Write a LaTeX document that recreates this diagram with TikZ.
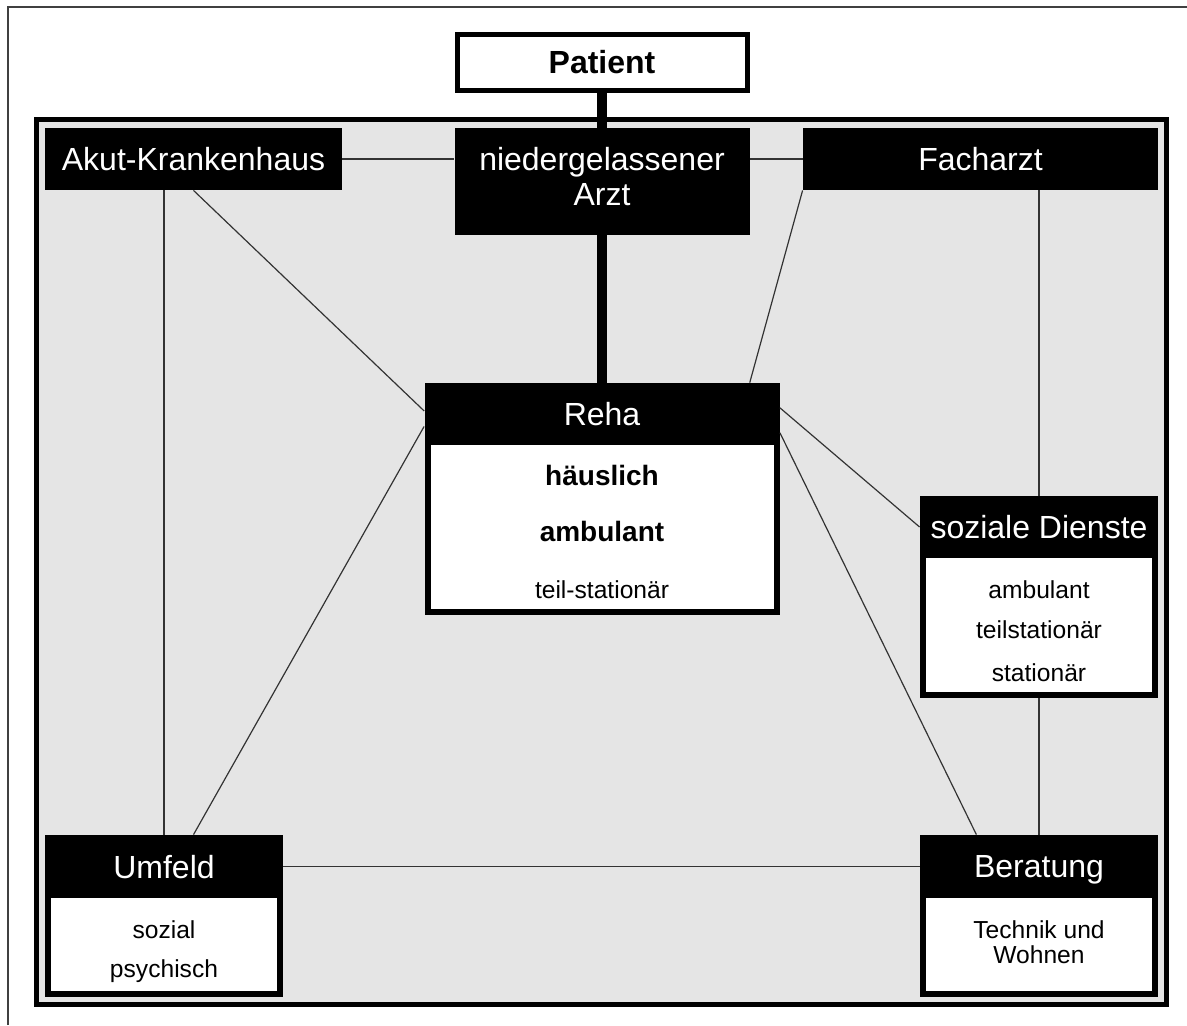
\documentclass[tikz,border=0pt]{standalone}
\usepackage{fontspec}
\setmainfont{Liberation Sans}
\usepackage{tikz}
\usetikzlibrary{positioning}
\definecolor{panelgray}{HTML}{E5E5E5}
\definecolor{edgegray}{HTML}{333333}
\tikzstyle{head} = [rectangle, fill=black, text=white, inner sep=0pt, text depth=0pt, align=center, font=\fontsize{16}{17.5}\selectfont]
\tikzstyle{body} = [rectangle, draw=black, fill=white, line width=3pt, inner sep=0pt]
\tikzstyle{item} = [anchor=base, font=\fontsize{12.3}{12.5}\selectfont]
\tikzstyle{bitem} = [anchor=base, font=\bfseries\fontsize{14}{16}\selectfont]
\tikzstyle{line} = [draw, edgegray, line width=0.6pt]
\tikzstyle{thickline} = [draw, line width=5pt]

\begin{document}
\begin{tikzpicture}[x=0.5pt, y=-0.5pt]
        \useasboundingbox (0,0) rectangle (1187,1025);
        % Frames
        \draw [black!75, line width=0.8pt] (8,1025) -- (8,7) -- (1187,7);
        \draw [line width=2.5pt, fill=panelgray] (36.5,119.5) rectangle (1166.5,1004.5);

        % Place nodes
        \node at (602,62.5) [body, line width=2.5pt, minimum width=145pt, minimum height=28pt, font=\bfseries\fontsize{16}{18}\selectfont] (patient) {Patient};
        \node at (193.5,159) [head, minimum width=148.5pt, minimum height=31pt] (akut) {Akut-Krankenhaus};
        \node at (602,181.5) [head, minimum width=147.5pt, minimum height=53.5pt, text depth=5pt] (arzt) {niedergelassener\\Arzt};
        \node at (980.5,159) [head, minimum width=177.5pt, minimum height=31pt] (facharzt) {Facharzt};
        \node at (602,414) [head, minimum width=177.5pt, minimum height=31pt] (reha) {Reha};
        \node at (602,527) [body, minimum width=174.5pt, minimum height=85pt] (rehabody) {};
        \node at (602,485) [bitem] (haeuslich) {häuslich};
        \node at (602,541) [bitem] (rehaamb) {ambulant};
        \node at (602,598) [item] (teilstat) {teil-stationär};
        \node at (1039,527) [head, minimum width=119pt, minimum height=31pt] (soz) {soziale Dienste};
        \node at (1039,625) [body, minimum width=116pt, minimum height=70pt] (sozbody) {};
        \node at (1039,598) [item] (sozamb) {ambulant};
        \node at (1039,638) [item] (sozteil) {teilstationär};
        \node at (1039,681) [item] (sozstat) {stationär};
        \node at (164,866.5) [head, minimum width=119pt, minimum height=31.5pt] (umfeld) {Umfeld};
        \node at (164,944.5) [body, minimum width=116pt, minimum height=49.5pt] (umfeldbody) {};
        \node at (164,938) [item] (sozial) {sozial};
        \node at (164,977) [item] (psychisch) {psychisch};
        \node at (1039,866.5) [head, minimum width=119pt, minimum height=31.5pt] (beratung) {Beratung};
        \node at (1039,944.5) [body, minimum width=116pt, minimum height=49.5pt] (beratungbody) {};
        \node at (1039,942) [item, anchor=center, align=center] (technik) {Technik und\\Wohnen};

        % Draw edges
        \path [thickline] (patient.south) -- (arzt.north);
        \path [thickline] (arzt.south) -- (reha.north);
        \path [line] (akut.east) -- (akut.east -| arzt.west);
        \path [line] (arzt.east |- facharzt.west) -- (facharzt.west);
        \path [line] (akut.south -| umfeld.north) -- (umfeld.north);
        \path [line] (akut.south) -- (reha.179);
        \path [line] (umfeld.north -| akut.south) -- (reha.184);
        \path [line] (facharzt.south west) -- (reha.12);
        \path [line] (facharzt.south -| soz.north) -- (soz.north);
        \path [line] (reha.2) -- (soz.west);
        \path [line] (reha.-6) -- (beratung.153);
        \path [line] (sozbody.south) -- (beratung.north);
        \path [line] (umfeld.east) -- (beratung.west);
\end{tikzpicture}
\end{document}
